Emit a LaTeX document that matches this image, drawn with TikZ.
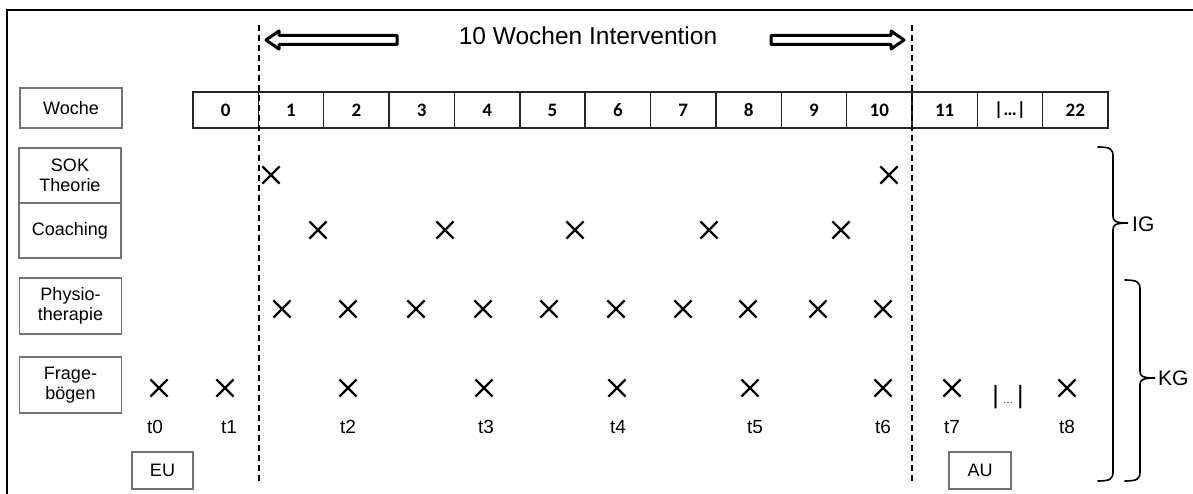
\documentclass[tikz,border=0pt]{standalone}
\usepackage{fontspec}
\setmainfont{Liberation Sans}
\newfontfamily\calfont{Carlito}
\usetikzlibrary{shapes.misc}
\begin{document}
\begin{tikzpicture}[x=1pt,y=-1pt,
  lbl/.style={draw=black!55, line width=1.3pt, minimum width=102pt, align=center,
    font=\fontsize{18}{20}\selectfont, inner sep=0pt},
  cell/.style={draw=black!85, line width=1.5pt, minimum width=65.36pt, minimum height=36pt,
    font=\calfont\bfseries\fontsize{19}{21}\selectfont, inner sep=0pt},
  mk/.style={cross out, draw, line width=2.2pt, minimum size=15pt, inner sep=0pt},
  tl/.style={font=\fontsize{19}{21}\selectfont, inner sep=0pt},
  dashline/.style={line width=1.6pt, dash pattern=on 6pt off 4pt},
  fatarrow/.style={line width=3pt, line join=round, fill=white},
  bracepath/.style={line width=1.6pt, line cap=round},
  grp/.style={font=\fontsize{21}{23}\selectfont, inner sep=0pt, anchor=west}]
\useasboundingbox (0,0) rectangle (1193,494);
% frame
\coordinate (fb) at (7,494); \coordinate (ftl) at (7,10); \coordinate (ftr) at (1193,10);
\draw[line width=2pt] (fb) -- (ftl) -- (ftr);
% header
\node[font=\fontsize{24.5}{26}\selectfont, inner sep=0pt] (head) at (588,36) {10 Wochen Intervention};
\draw[fatarrow] (266,40) -- (279,31) -- (279,35.5) -- (397,35.5) -- (397,44.5) -- (279,44.5) -- (279,49) -- cycle;
\draw[fatarrow] (904,40) -- (891,31) -- (891,35.5) -- (771,35.5) -- (771,44.5) -- (891,44.5) -- (891,49) -- cycle;
% week cells
\foreach \t [count=\i from 0] in {0,1,2,3,4,5,6,7,8,9,10,11,|…|,22}
  \node[cell] (c\i) at ({193+65.36*(\i+0.5)},110) {\t};
% dashed lines
\coordinate (d1t) at (259,25); \coordinate (d1b) at (259,482);
\coordinate (d2t) at (912,25); \coordinate (d2b) at (912,482);
\draw[dashline] (d1t) -- (d1b);
\draw[dashline] (d2t) -- (d2b);
% row labels
\node[lbl, minimum height=40pt] (lwoche) at (71,108) {Woche};
\node[lbl, minimum height=55pt] (lsok) at (70,175.5) {SOK\\Theorie};
\node[lbl, minimum height=55pt] (lcoach) at (70,230.5) {Coaching};
\node[lbl, minimum height=56pt] (lphys) at (70.5,306) {Physio-\\therapie};
\node[lbl, minimum height=56pt] (lfrage) at (70.5,385) {Frage-\\bögen};
\node[lbl, minimum width=61pt, minimum height=37pt] (eu) at (162.5,470.5) {EU};
\node[lbl, minimum width=62pt, minimum height=37pt] (au) at (980,470.5) {AU};
% markers
\foreach \x [count=\i] in {271,889} \node[mk] (s\i) at (\x,175) {};
\foreach \x [count=\i] in {318,445,575,709,841} \node[mk] (k\i) at (\x,230) {};
\foreach \x [count=\i] in {282,348,416,483,549,616,683,748,818,883} \node[mk] (p\i) at (\x,309) {};
\foreach \x [count=\i] in {159,225,348,484,617,750,883,952,1067} \node[mk] (f\i) at (\x,388) {};
\node[font=\fontsize{25}{27}\selectfont, inner sep=0pt] (fdots) at (1008,397) {|\,{\fontsize{10}{10}\selectfont …}\,|};
% time labels
\foreach \x [count=\i from 0] in {155,229,348,486,618,755,883,952,1067}
  \node[tl] (t\i) at (\x,427) {t\i};
% braces
\draw[bracepath] (1098,147) .. controls (1110,147) and (1113,149) .. (1113,156) -- (1113,216)
  .. controls (1113,221) and (1115,223) .. (1128,223)
  .. controls (1115,223) and (1113,225) .. (1113,230) -- (1113,472)
  .. controls (1113,479) and (1110,481) .. (1098,481);
\node[grp] (ig) at (1132,224) {IG};
\draw[bracepath] (1125,280) .. controls (1137,280) and (1140,282) .. (1140,289) -- (1140,371)
  .. controls (1140,376) and (1142,378) .. (1155,378)
  .. controls (1142,378) and (1140,380) .. (1140,385) -- (1140,472)
  .. controls (1140,479) and (1137,481) .. (1125,481);
\node[grp] (kg) at (1158,378) {KG};
\end{tikzpicture}
\end{document}
